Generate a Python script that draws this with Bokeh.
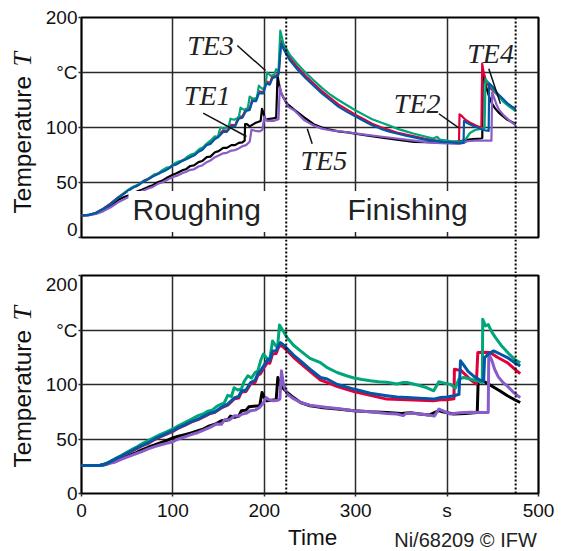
import math
from bokeh.plotting import figure
from bokeh.models import Range1d, FixedTicker, Span, Label, Grid
from bokeh.layouts import column, row
from bokeh.embed import file_html
from bokeh.resources import INLINE

# ---------------- data: top panel ----------------
t_te1_top = [0, 8, 16, 24, 32, 40, 46, 52, 60, 66, 73, 78, 84, 88, 94, 100, 104, 110, 114, 119, 123, 128, 132, 137, 141, 146, 150, 155, 159, 164, 168, 172, 176, 178.5, 179, 181, 184, 190, 196, 197.5, 199, 201, 208, 213, 214.5, 216, 218, 221, 225, 233, 244, 254, 263, 272, 281, 291, 310, 327, 345, 364, 389, 405, 414, 420, 428, 437, 438.5, 439, 441, 443, 446, 449, 452, 456, 460, 466, 473, 475]
te1_top = [20, 20.3, 22, 25, 29, 34, 36.5, 38.5, 41.5, 43.5, 46, 47.5, 50.5, 51.5, 54.5, 57, 58.5, 61, 62, 65, 65.5, 68.5, 69.5, 73, 73.5, 77.5, 78.5, 81.5, 81.5, 84, 84, 86, 86.5, 88, 103, 103, 101, 104, 106, 117, 113, 107.5, 108, 109, 147, 140, 132, 127, 121.5, 116, 109, 103, 100, 98, 96.5, 95.5, 93, 91, 89, 87, 86.5, 87, 87.5, 88.5, 89.5, 90, 90.5, 152, 145, 136, 128, 122, 118, 114, 111, 107, 104, 103]

t_te2_top = [0, 8, 16, 24, 32, 40, 46, 52, 58, 62, 68, 73, 78, 82, 88, 92, 96, 100, 104, 110, 114, 120, 124, 128, 132, 137, 141, 146, 150, 155, 159, 164, 168, 172, 176, 180, 184, 187, 191, 194, 199, 202, 206, 209, 213, 216, 218, 221, 228, 236, 245, 254, 263, 272, 281, 291, 300, 310, 318, 327, 336, 345, 355, 364, 375, 385, 395, 405, 413, 413.6, 416, 420, 426, 432, 437.5, 438.4, 440, 443, 447, 451, 456, 462, 468, 475]
te2_top = [20, 20.5, 22.5, 26.5, 31, 36.5, 40, 43.5, 46.5, 48, 51.5, 53.5, 56, 57.5, 60, 61.5, 63.5, 66, 67, 70, 71.5, 74, 75.5, 78.5, 80, 85, 86, 90.5, 92.5, 97.5, 97, 102.5, 102, 110, 110, 116.5, 117, 126, 125, 133, 132, 142, 140, 147, 147, 150, 179, 174, 163.5, 155, 147, 140, 133, 127, 121, 116, 111.5, 107, 103.5, 100.5, 98, 95.5, 93.5, 92, 90, 88.5, 87.5, 87, 86, 112, 110.5, 107, 104, 101.5, 100, 158, 150, 141, 136, 133, 129, 124, 120, 116]

t_te3_top = [0, 8, 16, 24, 32, 40, 46, 52, 57, 60, 66, 70, 75, 80, 84, 88, 93, 97, 102, 106, 111, 115, 120, 124, 129, 133, 138, 141, 146, 149, 152, 156, 161, 163, 167, 172, 174, 178, 182, 184, 188, 192, 194, 198, 201, 203, 207, 211, 213, 215.5, 217.5, 221, 228, 236, 245, 254, 263, 272, 281, 291, 300, 310, 318, 327, 336, 345, 355, 364, 375, 385, 389, 392, 400, 408, 415, 420, 425, 430, 436, 441, 442, 446, 451, 456, 462, 468, 475]
te3_top = [20, 20.5, 22.5, 26, 30.5, 36, 40, 44, 46.5, 46.5, 50.5, 51.5, 54.5, 57.5, 58, 61, 63.5, 64, 67.5, 69, 70, 73, 75.5, 76.5, 80.5, 82, 86, 88, 92, 91, 100, 99, 101, 108, 107, 109, 118, 116, 118, 128, 126, 127, 138, 135, 137, 150, 147, 148, 153, 151, 188, 176, 166, 158, 150, 143, 136, 130, 125, 120, 115.5, 111, 107.5, 104.8, 102, 99, 96.5, 94.3, 92, 90, 91.5, 89, 88, 87, 87, 89, 95, 97.5, 98.8, 99.5, 144, 140, 134, 129, 123, 119, 115]

t_te4_top = [0, 8, 16, 24, 32, 40, 46, 52, 58, 62, 68, 73, 78, 82, 88, 92, 96, 100, 104, 110, 114, 120, 124, 128, 132, 137, 141, 146, 150, 155, 159, 164, 168, 172, 176, 180, 184, 187, 191, 194, 199, 202, 206, 209, 213, 215.5, 218.5, 221, 228, 236, 245, 254, 263, 272, 281, 291, 300, 310, 318, 327, 336, 345, 355, 364, 375, 385, 395, 405, 413, 418, 418.5, 422, 430, 436, 441, 445.5, 446, 450, 455, 460, 466, 471, 475]
te4_top = [20, 20.5, 22.5, 26, 30.5, 36, 39.5, 43, 46, 47.5, 51, 53, 55.5, 57, 59.5, 61, 63, 65.5, 66.5, 69.5, 71, 73.5, 75, 78, 79.5, 84, 85, 89.5, 91.5, 96, 96, 101, 101, 108, 109, 115, 116, 124, 124, 131, 131, 140, 139, 145, 146, 148, 176, 171.5, 161, 153, 145, 138, 131, 125, 119, 114, 110, 105.5, 102, 99, 96.5, 94.5, 92.5, 91, 89, 88, 87, 86.5, 86, 86, 106, 104, 101, 99, 97.5, 97, 140, 137, 131, 127, 122, 119, 117]

t_te5_top = [0, 8, 16, 24, 32, 40, 46, 52, 60, 66, 73, 78, 84, 88, 94, 100, 104, 110, 114, 119, 123, 128, 132, 137, 141, 146, 150, 155, 159, 164, 168, 172, 176, 180, 184, 186, 190, 195, 198, 200, 203, 210, 215.5, 217, 219, 221, 226, 233, 244, 254, 263, 272, 291, 310, 327, 345, 364, 380, 393, 414, 418, 422, 430, 441, 448.5, 449.3, 451, 454, 457, 462, 468, 475]
te5_top = [20, 20.2, 21.5, 24, 27.5, 32, 34.5, 37, 39.5, 42, 44.5, 46, 49, 50, 52.5, 55, 56, 58.5, 59.5, 61.5, 62, 64.5, 65.5, 68.5, 70, 73, 74.5, 76.5, 77, 79, 79.5, 81, 83, 84, 87, 98, 97, 96.5, 98, 110, 106, 106, 107.5, 137, 130, 127.5, 119, 115.5, 106.5, 101.8, 99, 97.5, 95.7, 93.5, 91.8, 90, 88, 86.5, 85.7, 85.2, 86, 87.5, 88, 88, 88, 132, 128, 121, 116, 111, 106.5, 102]

# ---------------- data: bottom panel ----------------
t_te1_bot = [0, 10, 20, 26, 32, 36.5, 44, 52, 60, 66, 73, 80, 86, 93, 100, 106, 113, 120, 127.6, 133, 140, 146, 153, 160, 163, 167.5, 172, 175, 180, 183, 188, 195, 197.5, 200, 203, 208, 213, 214.8, 217, 220, 225, 232, 239.6, 250, 261.5, 280, 298, 316, 334, 350, 360, 370, 380, 391, 395, 407, 420, 433, 434, 440, 446, 452, 458, 466, 474, 480]
te1_bot = [25.6, 25.6, 25.6, 26.5, 28.5, 29.8, 32.5, 35, 37.5, 40, 42.4, 44.5, 46.5, 48.5, 51, 52.5, 54, 55.5, 57.6, 59, 62, 63.5, 66.8, 67.5, 71, 69.8, 71, 76, 76.5, 79.5, 80, 80.5, 92.7, 88, 85, 85.5, 86, 106.4, 100, 97, 92.7, 88, 83.5, 80.5, 79, 77.5, 76, 75, 74.4, 73.5, 74, 73, 72, 76, 75, 73, 73.5, 74.4, 103.4, 103, 100, 97, 94, 89.7, 86, 83.5]

t_te2_bot = [0, 10, 20, 26, 32, 36.5, 44, 52, 60, 66, 73, 80, 86, 93, 100, 106, 113, 120, 127.6, 133, 140, 146, 153, 160, 167.5, 172, 175, 180, 185, 190, 193, 196, 200, 203.5, 206, 209, 213, 215, 217, 220, 225, 232, 239.6, 250, 261.5, 270, 280, 298, 316, 334, 356, 370, 385, 393, 400, 407.5, 408, 411, 415, 420, 426, 432, 433.6, 440, 447, 455, 466, 474, 480]
te2_bot = [25.6, 25.6, 25.7, 27, 29.3, 31.2, 34.2, 37.6, 41, 43.6, 46, 49.5, 52, 54.5, 57, 60, 62.5, 65.5, 67.8, 70, 73, 74.5, 78.5, 81, 87, 87.5, 93, 93.5, 100.5, 102, 108.5, 110, 116, 120, 119.5, 128, 128.5, 133, 136, 135, 131, 125, 119.5, 112, 104, 101.5, 98, 93.5, 90, 86.6, 86, 85.5, 85, 86, 86, 87, 114, 113.5, 113, 109, 104, 100.4, 129.3, 129.5, 129.3, 125, 120, 114, 110]

t_te3_bot = [0, 10, 20, 26, 32, 36.5, 44, 52, 60, 66, 73, 80, 86, 93, 100, 106, 113, 120, 127.6, 133, 138, 143, 148, 153, 156, 160, 164, 167, 171, 175, 178, 182, 186, 190, 193, 196, 199, 203, 206, 209, 212, 214.5, 216.6, 220, 225, 232, 239.6, 250, 261.5, 268.8, 279.6, 290, 298, 307, 316, 325, 334, 345, 352, 356, 363, 370.8, 378, 385.4, 391, 396, 404, 409, 413, 418, 425, 432, 438.5, 439, 442, 445, 449, 453, 460, 468, 474, 480]
te3_bot = [25.6, 25.6, 25.7, 27, 29.5, 31.7, 35, 39, 42.5, 45.5, 48.5, 51.5, 54, 56.5, 59.2, 62, 65, 68, 71.4, 73, 75.5, 76.5, 80, 82, 83, 90, 89, 97, 95, 96, 103, 108, 106, 111, 112.5, 122, 128, 124, 123, 140, 136, 134, 154.6, 150, 143, 136, 130.8, 124, 120, 115.5, 111, 108, 106, 104.5, 103.4, 102.5, 102, 100.5, 101.8, 101.8, 100.5, 98.8, 97, 94.2, 102.5, 101.5, 100, 96.7, 105, 106.4, 105, 103.5, 101.8, 159.8, 153.7, 155, 148, 143, 135, 127.8, 123, 120]

t_te4_bot = [0, 10, 20, 26, 32, 36.5, 44, 52, 60, 66, 73, 80, 86, 93, 100, 106, 113, 120, 127.6, 133, 140, 146, 153, 160, 167.5, 172, 175, 180, 185, 190, 193, 196, 200, 203.5, 206, 209, 213, 215, 217.7, 220, 225, 232, 239.6, 250, 261.5, 268.8, 280, 298, 316, 334, 345, 356, 370, 385, 393, 400, 407.5, 413, 414.7, 418, 423, 430, 436, 440, 441, 446, 451, 458, 466, 474, 480]
te4_bot = [25.6, 25.6, 25.7, 27, 29.5, 31.5, 34.5, 38, 41.5, 44, 46.5, 50, 52.5, 55, 57.6, 60.5, 63, 66, 68.3, 70.5, 73.5, 75, 79, 82, 88, 89, 94, 95, 101.8, 104, 110, 112.5, 118, 123, 122, 130.8, 131, 135, 138.4, 137, 133, 127, 121.7, 114, 106.4, 105, 100, 95.8, 92, 89.7, 88.5, 88, 87.5, 86.6, 88, 88.5, 89.7, 91, 121.7, 118, 112, 107, 104, 103.4, 124.7, 128.5, 130.8, 128, 124.7, 120, 117]

t_te5_bot = [0, 10, 20, 26, 32, 36.5, 44, 52, 60, 66, 73, 80, 86, 93, 100, 106, 113, 120, 127.6, 133, 140, 148, 153, 157, 162, 167.5, 172, 176, 180, 185, 190, 195, 199, 202, 205, 210, 215, 217, 218.8, 221, 225, 232, 239.6, 250, 268.8, 280, 298, 316, 334, 345, 352, 356, 370, 380, 386, 391, 395, 403, 414, 425, 440, 445, 445.6, 449, 452, 456, 461, 466, 473, 480]
te5_bot = [25.6, 25.6, 25.6, 26.3, 28, 28.7, 31.5, 34, 36.5, 38.5, 40.9, 43, 44.5, 46, 47.5, 50, 52, 54, 56, 58, 60.5, 63.8, 63.5, 68, 67.5, 71.4, 71, 73, 73.5, 76, 76.5, 79, 83, 88, 86, 85, 85.5, 86.6, 112.5, 100, 91.3, 87, 83.5, 81, 79, 78, 76, 75, 73.5, 73, 71.4, 74, 73, 72, 71, 77.5, 76, 73, 74, 74.5, 74.4, 74.4, 127.8, 122, 114, 107, 102, 98.5, 92.5, 88]

# ---------------- axes / labels ----------------
x_ticks = [0, 100, 200, 300, 400, 500]
x_tick_overrides = {400: "s"}
y_ticks = [0, 50, 100, 150, 200]
y_tick_overrides = {150: "°C"}
phase_bounds = [224, 475]
series_names = ["TE1", "TE2", "TE3", "TE4", "TE5"]
series_colors = ["#000000", "#e2003c", "#00a57a", "#0057a6", "#8a5cc9"]
draw_order = [0, 4, 1, 2, 3]

top_series = [(t_te1_top, te1_top), (t_te2_top, te2_top), (t_te3_top, te3_top),
              (t_te4_top, te4_top), (t_te5_top, te5_top)]
bot_series = [(t_te1_bot, te1_bot), (t_te2_bot, te2_bot), (t_te3_bot, te3_bot),
              (t_te4_bot, te4_bot), (t_te5_bot, te5_bot)]

# name label anchor (text middle, data coords) and leader lines
name_labels = {
    "TE3": (115.6, 174.4, [170.4, 201.3], [174.5, 151.8]),
    "TE1": (112, 128.9, [133.1, 180.5], [113, 91.8]),
    "TE2": (341.7, 121.4, [391, 412.8], [112.5, 99.7]),
    "TE4": (422, 166.9, [445.6, 458.4], [153.4, 121.5]),
    "TE5": (239.6, 69.9, [252.4, 247], [85.2, 98.8]),
}

SANS = "Liberation Sans"
SERIF = "Liberation Serif"
LEFT_W = 40
RIGHT_W = 534
XR = Range1d(0, 500)


def blank_fig(w, h, xr, yr):
    f = figure(width=w, height=h, x_range=xr, y_range=yr, title=None,
               output_backend="svg", toolbar_location=None,
               x_axis_location=None, y_axis_location=None,
               min_border_left=0, min_border_right=0, min_border_top=0, min_border_bottom=0)
    f.grid.visible = False
    f.outline_line_color = None
    f.background_fill_color = "white"
    f.border_fill_color = "white"
    return f


def style_panel(p, show_x):
    p.outline_line_color = "black"
    p.outline_line_width = 2.2
    p.background_fill_color = "white"
    p.border_fill_color = "white"
    xt = FixedTicker(ticks=x_ticks)
    yt = FixedTicker(ticks=y_ticks)
    if len(p.xgrid) == 0:
        p.add_layout(Grid(dimension=0, ticker=xt))
    if len(p.ygrid) == 0:
        p.add_layout(Grid(dimension=1, ticker=yt))
    p.xgrid.ticker = xt
    p.ygrid.ticker = yt
    p.grid.grid_line_color = "#2a2a2a"
    p.grid.grid_line_width = 1.5
    p.grid.grid_line_alpha = 1.0
    for ax in p.yaxis:
        ax.ticker = yt
        ax.major_label_overrides = y_tick_overrides
        ax.minor_tick_line_color = None
        ax.axis_line_color = None
        ax.major_tick_in = 0
        ax.major_tick_out = 3
        ax.major_tick_line_color = "#2a2a2a"
        ax.major_tick_line_width = 1.5
        ax.major_label_standoff = 1
        ax.major_label_text_font = SANS
        ax.major_label_text_font_size = "19px"
        ax.major_label_text_color = "#111111"
    if show_x:
        for ax in p.xaxis:
            ax.ticker = xt
            ax.major_label_overrides = x_tick_overrides
            ax.minor_tick_line_color = None
            ax.axis_line_color = None
            ax.major_tick_in = 0
            ax.major_tick_out = 3
            ax.major_tick_line_color = "#2a2a2a"
            ax.major_tick_line_width = 1.5
            ax.major_label_standoff = 3
            ax.major_label_text_font = SANS
            ax.major_label_text_font_size = "19px"
            ax.major_label_text_color = "#111111"


def add_bounds(p):
    for b in phase_bounds:
        p.add_layout(Span(location=b, dimension="height", line_color="black",
                          line_width=2, line_dash="2 2"))


# ---------------- top panel ----------------
top = figure(width=RIGHT_W, height=239, x_range=XR, y_range=Range1d(0, 200), title=None,
             output_backend="svg", toolbar_location=None, x_axis_location=None,
             min_border_left=41, min_border_right=36, min_border_top=17, min_border_bottom=2)
style_panel(top, False)
for i in draw_order:
    tx, ty = top_series[i]
    top.line(tx, ty, line_color=series_colors[i], line_width=2.2, line_join="round")
add_bounds(top)
for name, (lx, ly, sx, sy) in name_labels.items():
    top.line(sx, sy, line_color="#111111", line_width=1.5)
    top.add_layout(Label(x=lx, y=ly, text=name, text_font=SERIF, text_font_style="italic",
                         text_font_size="28px", text_color="#222222",
                         text_align="left", text_baseline="middle"))
for txt, lx in [("Roughing", 51.4), ("Finishing", 286.7)]:
    top.add_layout(Label(x=lx, y=23.6, text=txt, text_font=SANS, text_font_size="30px",
                         text_color="#222222", text_align="left", text_baseline="middle",
                         background_fill_color="white", background_fill_alpha=1.0,
                         padding=(4, 6, 2, 6)))

# ---------------- gap (dotted lines continue) ----------------
gap = figure(width=RIGHT_W, height=34, x_range=XR, y_range=Range1d(0, 1), title=None,
             output_backend="svg", toolbar_location=None,
             x_axis_location=None, y_axis_location=None,
             min_border_left=41, min_border_right=36, min_border_top=0, min_border_bottom=0)
gap.grid.visible = False
gap.outline_line_color = None
gap.background_fill_color = "white"
gap.border_fill_color = "white"
add_bounds(gap)

# ---------------- bottom panel ----------------
bot = figure(width=RIGHT_W, height=250, x_range=XR, y_range=Range1d(0, 200), title=None,
             output_backend="svg", toolbar_location=None,
             min_border_left=41, min_border_right=36, min_border_top=2, min_border_bottom=30)
style_panel(bot, True)
for i in draw_order:
    tx, ty = bot_series[i]
    bot.line(tx, ty, line_color=series_colors[i], line_width=3, line_join="round")
add_bounds(bot)

# ---------------- bottom strip: axis title and credit (page pixel coords) ----------------
strip = blank_fig(RIGHT_W, 28, Range1d(LEFT_W, LEFT_W + RIGHT_W), Range1d(551, 523))
strip.add_layout(Label(x=310, y=536.5, text="Time", text_font=SANS, text_font_size="22.5px",
                       text_color="#111111", text_align="center", text_baseline="middle"))
strip.add_layout(Label(x=572, y=539.5, text="Ni/68209 © IFW", text_font=SANS,
                       text_font_size="20px", text_color="#222222",
                       text_align="right", text_baseline="middle"))

# ---------------- left strip: y axis titles (page pixel coords) ----------------
left = blank_fig(LEFT_W, 551, Range1d(0, LEFT_W), Range1d(551, 0))
for y_start, y_t in [(213, 66), (467, 320)]:
    left.add_layout(Label(x=22.4, y=y_start, text="Temperature", angle=math.pi / 2,
                          text_font=SANS, text_font_size="24.5px", text_color="#111111",
                          text_align="left", text_baseline="middle"))
    left.add_layout(Label(x=22.4, y=y_t, text="T", angle=math.pi / 2,
                          text_font=SERIF, text_font_style="italic", text_font_size="26px",
                          text_color="#111111", text_align="left", text_baseline="middle"))

p = row(left, column(top, gap, bot, strip))
open("out.html", "w").write(file_html(p, INLINE))
